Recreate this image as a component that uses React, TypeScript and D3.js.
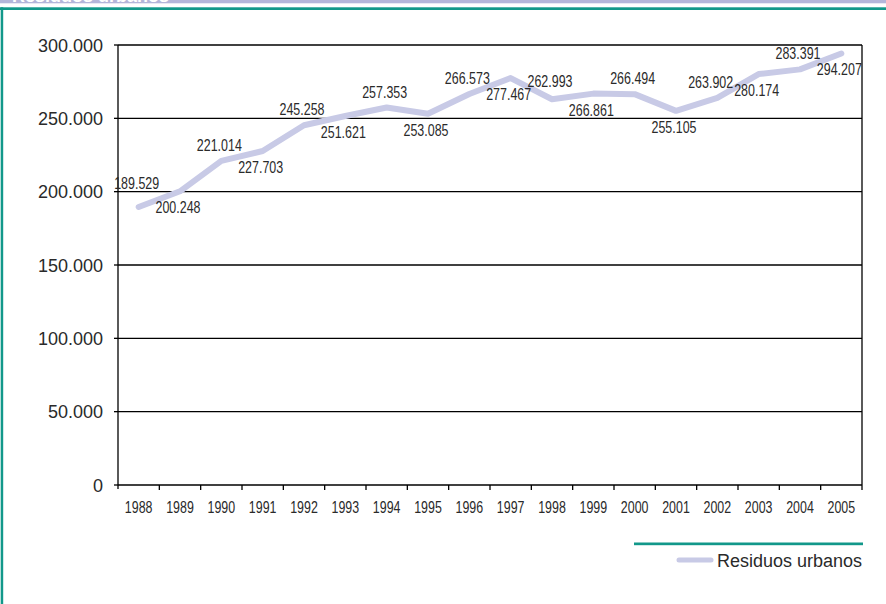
import React from "react";
import * as d3 from "d3";

const years = ["1988","1989","1990","1991","1992","1993","1994","1995","1996","1997","1998","1999","2000","2001","2002","2003","2004","2005"];
const residuos = [189529,200248,221014,227703,245258,251621,257353,253085,266573,277467,262993,266861,266494,255105,263902,280174,283391,294207];
const yTicks = [0,50000,100000,150000,200000,250000,300000];
const seriesName = "Residuos urbanos";

const W = 886, H = 604;
const M = { left: 118, right: 862, top: 45, bottom: 485 };
const SANS = "'Liberation Sans', Arial, sans-serif";
const LABEL_W = 45;
const LABEL_H = 12;

const fmt = (v: number) => {
  if (v === 0) return "0";
  const s = String(v);
  return s.replace(/\B(?=(\d{3})+(?!\d))/g, ".");
};

export default function App() {
  const x = d3.scaleBand<string>().domain(years).range([M.left, M.right]).padding(0);
  const y = d3.scaleLinear().domain([0, 300000]).range([M.bottom, M.top]);
  const cx = (i: number) => (x(years[i]) as number) + x.bandwidth() / 2;
  const line = d3.line<number>().x((_, i) => cx(i)).y((d) => y(d));
  const color = "#c8cae6";
  const teal = "#12988a";
  const ink = "#2a2a2a";

  // label placement: alternate above / below, avoid gridlines and neighbours
  const labels = residuos.map((v, i) => {
    const above = i % 2 === 0;
    let b = above ? y(v) - 10 : y(v) + 22;
    if (above) {
      for (const t of yTicks) {
        const g = y(t);
        if (b - LABEL_H < g && b + 1 > g) b = g - 3;
      }
    }
    return { v, above, x0: cx(i) - 2 - LABEL_W / 2, b };
  });
  for (let i = 0; i < labels.length - 1; i++) {
    const a = labels[i], c = labels[i + 1];
    const ox = a.x0 + LABEL_W - c.x0;
    const top = (l: typeof a) => l.b - LABEL_H;
    const oy = Math.min(a.b, c.b) - Math.max(top(a), top(c));
    if (ox > 0 && oy > 0) {
      if (a.above) a.x0 -= ox + 1;
      else c.b = Math.min(c.b, top(a) - 1);
    }
  }

  return (
    <svg width={W} height={H} style={{ position: "absolute", left: 0, top: 0, background: "#fff" }}>
      <rect x={0} y={0} width={W} height={3.3} fill="#b4b6da" />
      <text x={12} y={2} fill="#fff" fontFamily={SANS} fontWeight="bold" fontSize={18}>{seriesName}</text>
      <rect x={0} y={7.3} width={W} height={2.7} fill={teal} />
      <rect x={0.7} y={7.3} width={2.5} height={H} fill={teal} />

      {yTicks.map((t) => (
        <g key={t}>
          <line x1={M.left} x2={M.right} y1={y(t)} y2={y(t)} stroke="#000" strokeWidth={1.3} />
          <line x1={M.left - 4} x2={M.left} y1={y(t)} y2={y(t)} stroke="#000" strokeWidth={1.3} />
          <text x={103} y={y(t) + 6.5} textAnchor="end" fontFamily={SANS} fontSize={18} fill={ink}>{fmt(t)}</text>
        </g>
      ))}
      <line x1={M.left} x2={M.left} y1={M.top} y2={M.bottom + 4} stroke="#000" strokeWidth={1.3} />
      <line x1={M.right} x2={M.right} y1={M.top} y2={M.bottom + 5} stroke="#000" strokeWidth={1.3} />
      {years.map((yr, i) => (
        <g key={yr}>
          {i > 0 && <line x1={x(yr)} x2={x(yr)} y1={M.bottom} y2={M.bottom + 5} stroke="#000" strokeWidth={1.3} />}
          <text x={cx(i) - 13.8} y={M.bottom + 28} textLength={27.6} lengthAdjust="spacingAndGlyphs" fontFamily={SANS} fontSize={17} fill={ink}>{yr}</text>
        </g>
      ))}

      <path d={line(residuos) || ""} fill="none" stroke={color} strokeWidth={6} strokeLinejoin="round" strokeLinecap="round" />

      {labels.map((l, i) => (
        <text key={i} x={l.x0} y={l.b} textLength={LABEL_W} lengthAdjust="spacingAndGlyphs" fontFamily={SANS} fontSize={16.5} fill={ink}>{fmt(l.v)}</text>
      ))}

      <rect x={634} y={542.5} width={229} height={2.7} fill={teal} />
      <line x1={679} x2={711} y1={560} y2={560} stroke={color} strokeWidth={5} strokeLinecap="round" />
      <text x={862} y={567} textAnchor="end" fontFamily={SANS} fontSize={18} fill={ink}>{seriesName}</text>
    </svg>
  );
}
